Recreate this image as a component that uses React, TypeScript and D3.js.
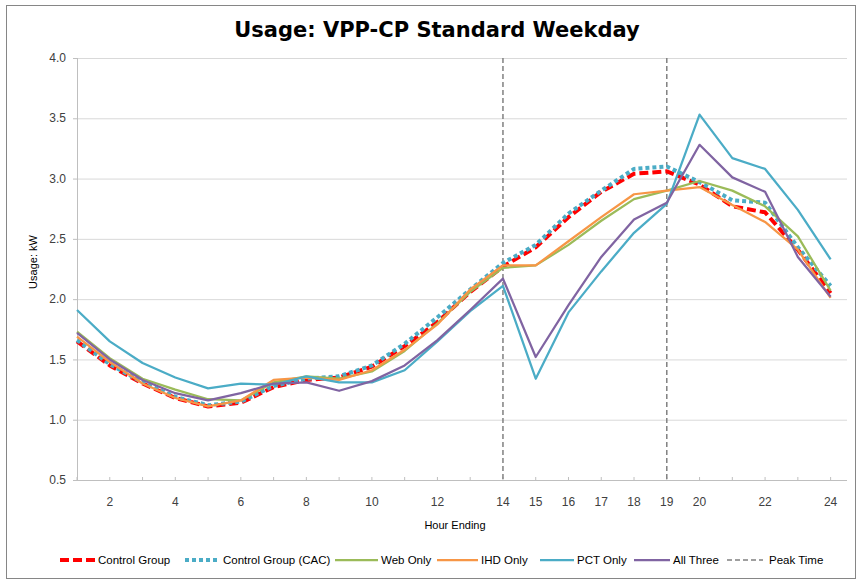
import React from 'react';
import * as d3 from 'd3';

const hours = d3.range(1, 25);
const tickHours = [2, 4, 6, 8, 10, 12, 14, 15, 16, 17, 18, 19, 20, 22, 24];
const yTicks = [0.5, 1.0, 1.5, 2.0, 2.5, 3.0, 3.5, 4.0];
const peakHours = [14, 19];

const controlGroup = [1.65, 1.45, 1.30, 1.18, 1.11, 1.14, 1.27, 1.33, 1.35, 1.44, 1.61, 1.81, 2.06, 2.27, 2.43, 2.68, 2.89, 3.04, 3.06, 2.95, 2.77, 2.72, 2.41, 2.05];
const controlGroupCac = [1.66, 1.46, 1.31, 1.19, 1.12, 1.15, 1.28, 1.34, 1.36, 1.45, 1.63, 1.85, 2.08, 2.30, 2.45, 2.71, 2.90, 3.08, 3.10, 2.97, 2.82, 2.80, 2.43, 2.11];
const webOnly = [1.73, 1.51, 1.34, 1.25, 1.17, 1.16, 1.31, 1.36, 1.34, 1.40, 1.57, 1.80, 2.06, 2.26, 2.28, 2.45, 2.65, 2.83, 2.90, 2.98, 2.90, 2.77, 2.52, 2.07];
const ihdOnly = [1.69, 1.48, 1.30, 1.18, 1.11, 1.16, 1.33, 1.35, 1.33, 1.41, 1.58, 1.79, 2.08, 2.28, 2.28, 2.48, 2.68, 2.87, 2.90, 2.93, 2.78, 2.64, 2.41, 2.01];
const pctOnly = [1.91, 1.65, 1.47, 1.35, 1.26, 1.30, 1.29, 1.36, 1.31, 1.31, 1.41, 1.65, 1.90, 2.11, 1.34, 1.89, 2.23, 2.55, 2.79, 3.53, 3.17, 3.08, 2.74, 2.33];
const allThree = [1.72, 1.50, 1.33, 1.22, 1.16, 1.22, 1.30, 1.31, 1.24, 1.32, 1.45, 1.66, 1.91, 2.17, 1.52, 1.95, 2.35, 2.66, 2.80, 3.28, 3.01, 2.89, 2.35, 2.02];

const series = [
  { name: 'Control Group', values: controlGroup, color: '#FF0000', width: 4, dash: '9,4' },
  { name: 'Control Group (CAC)', values: controlGroupCac, color: '#4BACC6', width: 4, dash: '4,3' },
  { name: 'Web Only', values: webOnly, color: '#9BBB59', width: 2.25, dash: '' },
  { name: 'IHD Only', values: ihdOnly, color: '#F79646', width: 2.25, dash: '' },
  { name: 'PCT Only', values: pctOnly, color: '#4BACC6', width: 2.25, dash: '' },
  { name: 'All Three', values: allThree, color: '#8064A2', width: 2.25, dash: '' },
];

// legend: line start, line end, text start
const legendPos = [[60, 96, 98], [185, 220, 223], [335, 378, 381], [437, 478, 481], [540, 574, 577], [634, 670, 673], [727, 763, 769]];

const W = 860;
const H = 580;
const plot = { left: 77, right: 847, top: 58, bottom: 480 };
const font = '"Liberation Sans", Arial, sans-serif';

export default function App() {
  const x = d3.scaleLinear().domain([1, 24.5]).range([plot.left, plot.right]);
  const y = d3.scaleLinear().domain([0.5, 4.0]).range([plot.bottom, plot.top]);
  const line = d3.line<number>().x((_, i) => x(hours[i])).y(d => y(d));

  return (
    <svg width={W} height={H} style={{ position: 'absolute', left: 0, top: 0 }}>
      <rect x={0} y={0} width={W} height={H} fill="#fff" />
      <rect x={6.5} y={5.5} width={849} height={573} fill="none" stroke="#868686" strokeWidth={1} />
      <text x={437} y={37} textAnchor="middle" fontFamily='"DejaVu Sans", Verdana, sans-serif' fontWeight="bold" fontSize={21} fill="#000">
        Usage: VPP-CP Standard Weekday
      </text>

      {yTicks.map(t => (
        <g key={t}>
          {t > 0.5 && <line x1={plot.left} x2={plot.right} y1={y(t) + 0.5} y2={y(t) + 0.5} stroke="#D9D9D9" strokeWidth={1} />}
          <line x1={plot.left - 4} x2={plot.left} y1={y(t) + 0.5} y2={y(t) + 0.5} stroke="#BFBFBF" />
          <text x={66} y={y(t)} dy="0.35em" textAnchor="end" fontFamily={font} fontSize={12} fill="#404040">{t.toFixed(1)}</text>
        </g>
      ))}
      <line x1={plot.left + 0.5} x2={plot.left + 0.5} y1={plot.top} y2={plot.bottom} stroke="#BFBFBF" />
      <line x1={plot.left} x2={plot.right} y1={plot.bottom + 0.5} y2={plot.bottom + 0.5} stroke="#BFBFBF" />
      {hours.map(h => (
        <line key={h} x1={x(h)} x2={x(h)} y1={plot.bottom - 3} y2={plot.bottom} stroke="#BFBFBF" />
      ))}
      {tickHours.map(h => (
        <text key={h} x={x(h)} y={502} dy="0.35em" textAnchor="middle" fontFamily={font} fontSize={12} fill="#404040">{h}</text>
      ))}
      <text x={455} y={525} dy="0.35em" textAnchor="middle" fontFamily={font} fontSize={11} fill="#000">Hour Ending</text>
      <text transform={`translate(33,262) rotate(-90)`} textAnchor="middle" dy="0.35em" fontFamily={font} fontSize={11} fill="#000">Usage: kW</text>

      {peakHours.map(h => (
        <line key={h} x1={x(h)} x2={x(h)} y1={plot.top} y2={plot.bottom} stroke="#808080" strokeWidth={1.5} strokeDasharray="5,3" />
      ))}

      {series.map(s => (
        <path key={s.name} d={line(s.values) || ''} fill="none" stroke={s.color} strokeWidth={s.width}
          strokeDasharray={s.dash || undefined} strokeLinejoin="round" />
      ))}

      {series.map((s, i) => (
        <g key={s.name} transform="translate(0,560)">
          <line x1={legendPos[i][0]} x2={legendPos[i][1]} y1={0} y2={0} stroke={s.color} strokeWidth={s.width} strokeDasharray={s.dash || undefined} />
          <text x={legendPos[i][2]} y={0} dy="0.35em" fontFamily={font} fontSize={11.5} fill="#000">{s.name}</text>
        </g>
      ))}
      <g transform="translate(0,560)">
        <line x1={legendPos[6][0]} x2={legendPos[6][1]} y1={0} y2={0} stroke="#808080" strokeWidth={1.5} strokeDasharray="5,3" />
        <text x={legendPos[6][2]} y={0} dy="0.35em" fontFamily={font} fontSize={11.5} fill="#000">Peak Time</text>
      </g>
    </svg>
  );
}
